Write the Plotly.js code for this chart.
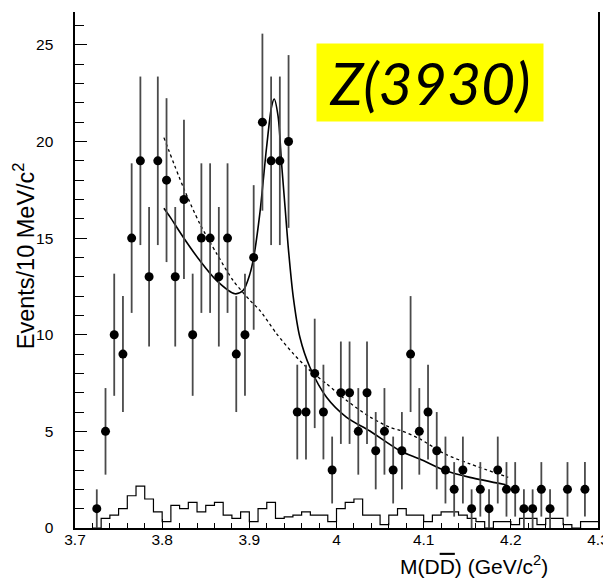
<!DOCTYPE html>
<html>
<head>
<meta charset="utf-8">
<script src="https://cdn.plot.ly/plotly-3.0.1.min.js"></script>
<style>
  html, body { margin: 0; padding: 0; background: #fff; }
  #chart { width: 603px; height: 578px; }
</style>
</head>
<body>
<div id="chart"></div>
<script>
// ---- Data points (bin centres, GeV/c^2) and counts ----
const massCentres = [3.725, 3.735, 3.745, 3.755, 3.765, 3.775, 3.785, 3.795, 3.805, 3.815,
  3.825, 3.835, 3.845, 3.855, 3.865, 3.875, 3.885, 3.895, 3.905, 3.915,
  3.925, 3.935, 3.945, 3.955, 3.965, 3.975, 3.985, 3.995, 4.005, 4.015,
  4.025, 4.035, 4.045, 4.055, 4.065, 4.075, 4.085, 4.095, 4.105, 4.115,
  4.125, 4.135, 4.145, 4.155, 4.165, 4.175, 4.185, 4.195, 4.205, 4.215,
  4.225, 4.235, 4.245, 4.265, 4.285];
const counts = [1, 5, 10, 9, 15, 19, 13, 19, 18, 13,
  17, 10, 15, 15, 13, 15, 9, 10, 14, 21,
  19, 19, 20, 6, 6, 8, 6, 3, 7, 7,
  5, 7, 4, 5, 3, 4, 9, 5, 6, 4,
  3, 2, 3, 1, 2, 1, 3, 2, 2, 1,
  1, 2, 1, 2, 2];
const countErrors = [1, 2.24, 3.16, 3, 3.87, 4.36, 3.61, 4.36, 4.24, 3.61,
  4.12, 3.16, 3.87, 3.87, 3.61, 3.87, 3, 3.16, 3.74, 4.58,
  4.36, 4.36, 4.47, 2.45, 2.45, 2.83, 2.45, 1.73, 2.65, 2.65,
  2.24, 2.65, 2, 2.24, 1.73, 2, 3, 2.24, 2.45, 2,
  1.73, 1.41, 1.73, 1, 1.41, 1, 1.73, 1.41, 1.41, 1,
  1, 1.41, 1, 1.41, 1.41];

// ---- Side-band histogram (bin left edges and contents) ----
const sbEdges = [3.72, 3.73, 3.74, 3.75, 3.76, 3.77, 3.78, 3.79, 3.80, 3.81,
  3.82, 3.83, 3.84, 3.85, 3.86, 3.87, 3.88, 3.89, 3.90, 3.91,
  3.92, 3.93, 3.94, 3.95, 3.96, 3.97, 3.98, 3.99, 4.00, 4.01,
  4.02, 4.03, 4.04, 4.05, 4.06, 4.07, 4.08, 4.09, 4.10, 4.11,
  4.12, 4.13, 4.14, 4.15, 4.16, 4.17, 4.18, 4.19, 4.20, 4.21,
  4.22, 4.23, 4.24, 4.25, 4.26, 4.27, 4.28, 4.29, 4.30];
const sbContents = [0, 0.5, 0.67, 1.0, 1.67, 2.17, 1.5, 0.83, 0.33, 1.17,
  1.0, 1.33, 0.83, 1.17, 1.33, 0.67, 0.5, 0.83, 0.33, 1.0,
  1.33, 0.5, 0.58, 0.67, 0.83, 0.67, 0.67, 0.33, 1.0, 1.33,
  1.5, 0.67, 0.67, 0.17, 0.67, 1.0, 0.67, 0.67, 0.33, 0.67,
  0.83, 0.83, 0.67, 0.5, 0.33, 0, 0.33, 0.33, 0.17, 0.5,
  0.5, 0.17, 0.5, 0.5, 0.17, 0, 0.33, 0.33, 0.33];

// ---- Fit: signal + background (solid) ----
const fitX = [3.802, 3.809, 3.824, 3.843, 3.8625, 3.8835, 3.893, 3.9007, 3.905, 3.912,
  3.9198, 3.9255, 3.9285, 3.933, 3.937, 3.941, 3.9446, 3.9504, 3.958, 3.9695,
  3.9886, 4.0116, 4.0383, 4.074, 4.0956, 4.1243, 4.153, 4.1943];
const fitY = [16.55, 16.1, 15.06, 13.85, 12.8, 12.12, 12.3, 13.15, 14.0, 16.25,
  19.7, 21.8, 22.2, 21.3, 18.85, 16.6, 14.55, 11.95, 9.87, 8.32,
  6.77, 5.73, 5.02, 3.97, 3.57, 2.97, 2.62, 2.24];

// ---- Fit: background only (dashed) ----
const bkgX = [3.802, 3.824, 3.843, 3.8625, 3.8815, 3.9007, 3.912, 3.9313, 3.9504, 3.9695,
  3.9886, 4.0116, 4.0383, 4.0612, 4.074, 4.0956, 4.1243, 4.153, 4.197];
const bkgY = [20.2, 17.66, 15.76, 14.2, 12.8, 11.78, 11.26, 10.05, 9.02, 8.15,
  7.46, 6.6, 5.75, 5.21, 5.04, 4.61, 3.83, 3.32, 2.62];

const xTickVals = [3.7, 3.8, 3.9, 4.0, 4.1, 4.2, 4.3];
const xTickText = ['3.7', '3.8', '3.9', '4', '4.1', '4.2', '4.3'];
const yTickVals = [0, 5, 10, 15, 20, 25];
const yTickText = ['0', '5', '10', '15', '20', '25'];

const FONT = 'Liberation Sans, Arial, Helvetica, sans-serif';

const traces = [
  {
    x: sbEdges, y: sbContents, type: 'scatter', mode: 'lines',
    line: { shape: 'hv', color: '#000', width: 1.2 },
    hoverinfo: 'skip', showlegend: false
  },
  {
    x: bkgX, y: bkgY, type: 'scatter', mode: 'lines',
    line: { shape: 'spline', smoothing: 0.8, color: '#000', width: 1.3, dash: '3px,3px' },
    showlegend: false
  },
  {
    x: fitX, y: fitY, type: 'scatter', mode: 'lines',
    line: { shape: 'spline', smoothing: 0.8, color: '#000', width: 1.6 },
    showlegend: false
  },
  {
    x: massCentres, y: counts, type: 'scatter', mode: 'markers',
    marker: { color: '#000', size: 9 },
    error_y: { type: 'data', array: countErrors, visible: true, color: '#4a4a4a', thickness: 1.8, width: 0 },
    showlegend: false
  }
];

const layout = {
  width: 603, height: 578,
  margin: { l: 75, r: 5, t: 12, b: 50 },
  paper_bgcolor: '#fff', plot_bgcolor: '#fff',
  font: { family: FONT, color: '#000', size: 15 },
  xaxis: {
    range: [3.7, 4.3], tickvals: xTickVals, ticktext: xTickText,
    ticks: 'inside', ticklen: 9, tickwidth: 1.2, tickcolor: '#000',
    minor: { dtick: 0.02, tick0: 3.7, ticks: 'inside', ticklen: 5, tickwidth: 1, tickcolor: '#000', showgrid: false },
    showline: true, linecolor: '#000', linewidth: 2, mirror: false,
    showgrid: false, zeroline: false,
    tickfont: { family: FONT, size: 15.5, color: '#000' },
    ticklabelstandoff: -4,
    ticklabeloverflow: 'allow'
  },
  yaxis: {
    range: [0, 26.7], tickvals: yTickVals, ticktext: yTickText,
    ticks: 'inside', ticklen: 12, tickwidth: 1.2, tickcolor: '#000',
    minor: { dtick: 1, tick0: 0, ticks: 'inside', ticklen: 9, tickwidth: 1, tickcolor: '#000', showgrid: false },
    showline: true, linecolor: '#000', linewidth: 1.6, mirror: true,
    showgrid: false, zeroline: false,
    tickfont: { family: FONT, size: 15.5, color: '#000' },
    ticklabelstandoff: 17,
    ticklabeloverflow: 'allow'
  },
  annotations: [
    {
      xref: 'paper', yref: 'paper', x: 0.6788, y: 0.8634,
      xanchor: 'center', yanchor: 'middle',
      text: 'Z(3930)', showarrow: false,
      font: { family: 'Lato, Open Sans, sans-serif', size: 59, color: '#000', style: 'italic' },
      bgcolor: '#ffff00', width: 226, height: 77, borderpad: 0, align: 'center', valign: 'middle'
    },
    {
      xref: 'paper', yref: 'paper', x: 0.762, y: -0.072,
      xanchor: 'center', yanchor: 'middle',
      text: "M(D<span style='text-decoration:overline'>D</span>) (GeV/c<sup>2</sup>)",
      showarrow: false,
      font: { family: FONT, size: 21, color: '#000' }
    },
    {
      xref: 'paper', yref: 'paper', x: -0.098, y: 0.528,
      xanchor: 'center', yanchor: 'middle', textangle: -90,
      text: 'Events/10 MeV/c<sup>2</sup>', showarrow: false,
      font: { family: FONT, size: 23.5, color: '#000' }
    }
  ]
};

Plotly.newPlot('chart', traces, layout, { staticPlot: true, displayModeBar: false });
</script>
</body>
</html>
